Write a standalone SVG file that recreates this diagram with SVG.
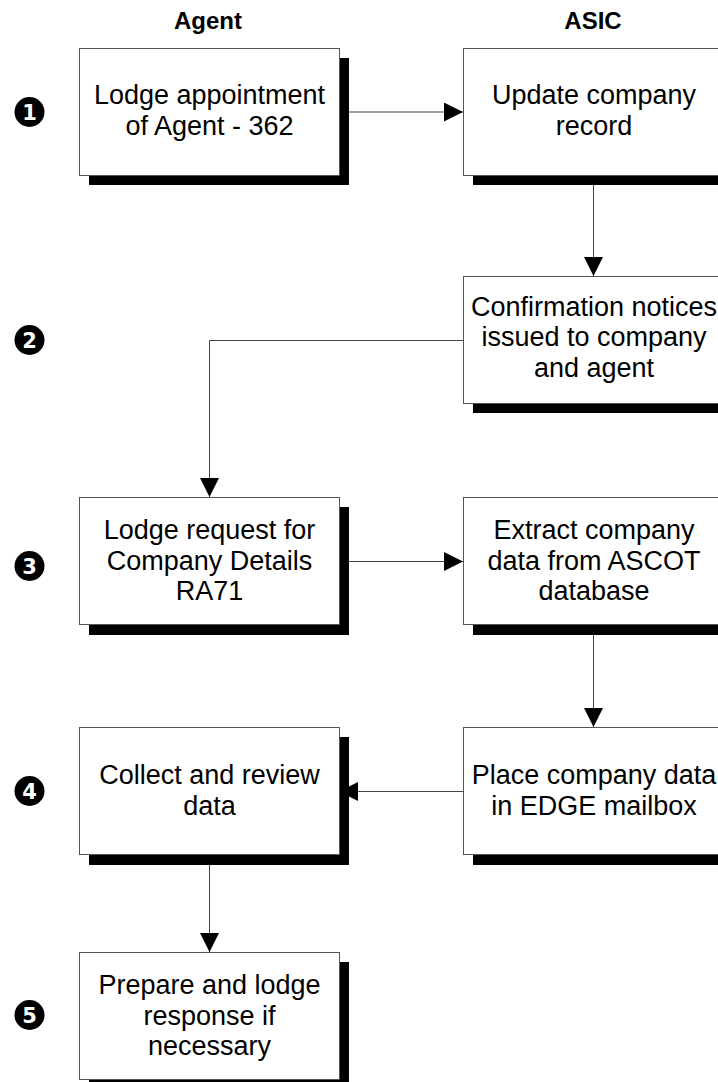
<svg xmlns="http://www.w3.org/2000/svg" width="718" height="1082" viewBox="0 0 718 1082">
  <defs>
    <marker id="arrow" viewBox="0 0 19 19" refX="19" refY="9.5" markerWidth="19" markerHeight="19" markerUnits="userSpaceOnUse" orient="auto">
      <path d="M0,0 L19,9.5 L0,19 Z" fill="#000"/>
    </marker>
  </defs>
  <style>
    .shadow { fill: #000; }
    .box { fill: #fff; stroke: #555; stroke-width: 1; }
    .label { font-family: "Liberation Sans", Arial, sans-serif; font-size: 27px; fill: #000; text-anchor: middle; }
    .head { font-family: "Liberation Sans", Arial, sans-serif; font-size: 24px; font-weight: bold; fill: #000; text-anchor: middle; }
    .num { fill: #000; }
    .numtxt { font-family: "DejaVu Sans", "Liberation Sans", sans-serif; font-size: 21px; font-weight: bold; fill: #fff; text-anchor: middle; }
    .conn { fill: none; stroke: #444; stroke-width: 1; marker-end: url(#arrow); }
  </style>
  <rect width="718" height="1082" fill="#fff"/>

  <g id="headers">
    <text class="head" x="208" y="29">Agent</text>
    <text class="head" x="593" y="29">ASIC</text>
  </g>

  <g id="steps">
    <g id="step1"><circle class="num" cx="29.5" cy="112" r="15"/><text class="numtxt" x="29.5" y="119.5">1</text></g>
    <g id="step2"><circle class="num" cx="29.5" cy="340" r="15"/><text class="numtxt" x="29.5" y="347.5">2</text></g>
    <g id="step3"><circle class="num" cx="29.5" cy="566" r="15"/><text class="numtxt" x="29.5" y="573.5">3</text></g>
    <g id="step4"><circle class="num" cx="29.5" cy="791" r="15"/><text class="numtxt" x="29.5" y="798.5">4</text></g>
    <g id="step5"><circle class="num" cx="29.5" cy="1015" r="15"/><text class="numtxt" x="29.5" y="1022.5">5</text></g>
  </g>

  <g id="connectors">
    <path class="conn" d="M339,112 H463"/>
    <path class="conn" d="M593.5,175 V276"/>
    <path class="conn" d="M463,340.5 H209.5 V497"/>
    <path class="conn" d="M339,561.5 H463"/>
    <path class="conn" d="M593.5,625 V727"/>
    <path class="conn" d="M463,791.5 H339"/>
    <path class="conn" d="M209.5,855 V952"/>
  </g>

  <g id="lodge-appointment">
    <rect class="shadow" x="89" y="58" width="260" height="127"/>
    <rect class="box" x="79.5" y="48.5" width="260" height="127"/>
    <text class="label" x="209.5" y="104">Lodge appointment</text>
    <text class="label" x="209.5" y="135">of Agent - 362</text>
  </g>

  <g id="update-record">
    <rect class="shadow" x="473" y="58" width="260" height="127"/>
    <rect class="box" x="463.5" y="48.5" width="260" height="127"/>
    <text class="label" x="594" y="104">Update company</text>
    <text class="label" x="594" y="135">record</text>
  </g>

  <g id="confirmation">
    <rect class="shadow" x="473" y="286" width="260" height="127"/>
    <rect class="box" x="463.5" y="276.5" width="260" height="127"/>
    <text class="label" x="594" y="316">Confirmation notices</text>
    <text class="label" x="594" y="346">issued to company</text>
    <text class="label" x="594" y="377">and agent</text>
  </g>

  <g id="lodge-request">
    <rect class="shadow" x="89" y="507" width="260" height="128"/>
    <rect class="box" x="79.5" y="497.5" width="260" height="127"/>
    <text class="label" x="209.5" y="539">Lodge request for</text>
    <text class="label" x="209.5" y="570">Company Details</text>
    <text class="label" x="209.5" y="600">RA71</text>
  </g>

  <g id="extract">
    <rect class="shadow" x="473" y="507" width="260" height="128"/>
    <rect class="box" x="463.5" y="497.5" width="260" height="127"/>
    <text class="label" x="594" y="539">Extract company</text>
    <text class="label" x="594" y="570">data from ASCOT</text>
    <text class="label" x="594" y="600">database</text>
  </g>

  <g id="collect">
    <rect class="shadow" x="89" y="737" width="260" height="128"/>
    <rect class="box" x="79.5" y="727.5" width="260" height="127"/>
    <text class="label" x="209.5" y="784">Collect and review</text>
    <text class="label" x="209.5" y="815">data</text>
  </g>

  <g id="place">
    <rect class="shadow" x="473" y="737" width="260" height="128"/>
    <rect class="box" x="463.5" y="727.5" width="260" height="127"/>
    <text class="label" x="594" y="784">Place company data</text>
    <text class="label" x="594" y="815">in EDGE mailbox</text>
  </g>

  <g id="prepare">
    <rect class="shadow" x="89" y="962" width="260" height="128"/>
    <rect class="box" x="79.5" y="952.5" width="260" height="127"/>
    <text class="label" x="209.5" y="994">Prepare and lodge</text>
    <text class="label" x="209.5" y="1025">response if</text>
    <text class="label" x="209.5" y="1055">necessary</text>
  </g>
</svg>
